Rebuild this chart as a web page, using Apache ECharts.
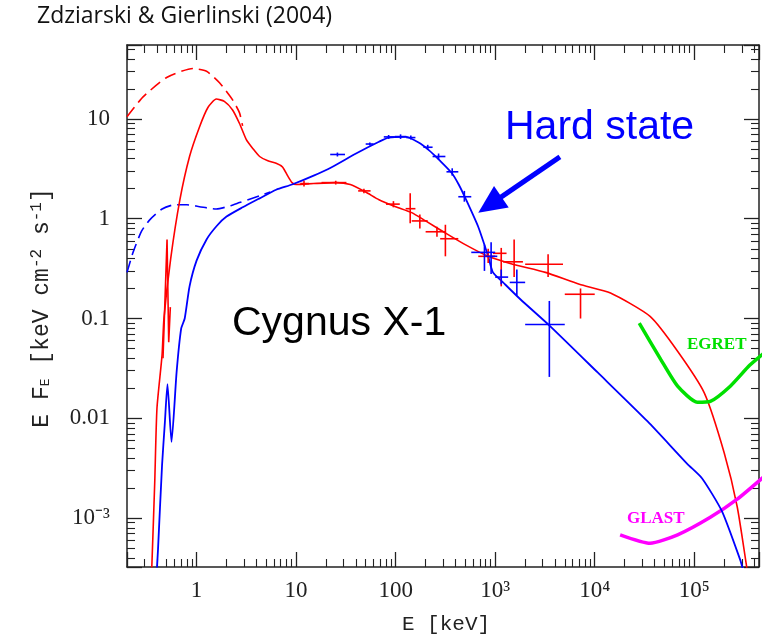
<!DOCTYPE html>
<html>
<head>
<meta charset="utf-8">
<script src="https://cdn.jsdelivr.net/npm/echarts@6/dist/echarts.min.js"></script>
<style>
  html, body { margin: 0; padding: 0; background: #fff; }
  #main { width: 762px; height: 637px; }
</style>
</head>
<body>
<div id="main"></div>
<script>
// axis ranges and tick labels
var xRange = [0.2, 4.47e5];
var yRange = [3.24e-4, 55];
var xTickValues = [1, 10, 100, 1e3, 1e4, 1e5];
var xTickLabels = ['1', '10', '100', '10³', '10⁴', '10⁵'];
var yTickValues = [1e-3, 0.01, 0.1, 1, 10];
var yTickLabels = ['10⁻³', '0.01', '0.1', '1', '10'];

// soft state (red) - model curve [E keV, E F_E]
var redModel = [
  [0.355, 3.2e-4], [0.38, 0.0023], [0.40, 0.0126], [0.45, 0.043], [0.47, 0.1],
  [0.55, 0.4], [0.68, 1.55], [0.85, 4.2], [1.07, 8.3], [1.3, 13], [1.58, 15.8],
  [1.9, 15], [2.3, 12.3], [2.7, 9], [3.16, 6.2], [3.7, 5.0], [4.3, 4.2], [5.2, 3.8],
  [6.3, 3.6], [7.3, 3.3], [8.2, 2.7], [9.1, 2.3], [10, 2.2], [15, 2.25], [25, 2.3],
  [35, 2.2], [50, 1.85], [68, 1.55], [100, 1.32], [145, 1.15], [200, 0.95],
  [316, 0.72], [500, 0.55], [851, 0.42], [1500, 0.35], [3200, 0.29], [7000, 0.22],
  [14400, 0.18], [36000, 0.105], [68000, 0.047], [126000, 0.018], [200000, 0.0045],
  [270000, 0.0013], [340000, 3e-4]
];
var redSpike = [[0.46, 0.04], [0.505, 0.62], [0.525, 0.058], [0.545, 0.13]];
var redUnabsorbed = [
  [0.2, 10.5], [0.29, 16.6], [0.5, 26], [0.92, 32], [1.26, 30], [1.7, 23],
  [2.3, 15.5], [2.7, 11.5], [2.9, 8.5]
];
// [E, flux, Elo, Ehi, fluxLo, fluxHi]
var redCrosses = [
  [12, 2.25, 11, 13.5, 2.1, 2.4], [25, 2.3, 18, 32, 2.2, 2.4], [48, 1.9, 42, 56, 1.8, 2.0],
  [95, 1.4, 80, 110, 1.3, 1.5], [140, 1.26, 126, 158, 0.9, 1.8], [175, 0.95, 145, 210, 0.8, 1.1],
  [260, 0.74, 200, 316, 0.66, 0.83], [316, 0.63, 280, 426, 0.42, 0.87],
  [850, 0.42, 676, 1000, 0.36, 0.5], [1150, 0.45, 950, 1300, 0.21, 0.51],
  [1550, 0.37, 1200, 1900, 0.26, 0.62], [3400, 0.35, 2000, 4800, 0.26, 0.44],
  [7200, 0.175, 5000, 10000, 0.1, 0.2]
];

// hard state (blue)
var blueModel = [
  [0.4, 3.2e-4], [0.41, 4.9e-4], [0.45, 0.0034], [0.48, 0.009], [0.51, 0.022],
  [0.56, 0.0058], [0.63, 0.029], [0.7, 0.079], [0.76, 0.1], [0.85, 0.21], [1.0, 0.38],
  [1.26, 0.62], [1.6, 0.85], [2.0, 1.05], [2.9, 1.3], [4.3, 1.6], [6.3, 1.95], [9.1, 2.2],
  [15, 2.7], [23, 3.3], [40, 4.5], [68, 5.9], [85, 6.5], [126, 6.6], [170, 5.8],
  [214, 4.9], [280, 3.8], [363, 2.9], [430, 2.2], [510, 1.55], [675, 0.83], [850, 0.42],
  [950, 0.29], [1200, 0.23], [1800, 0.155], [3600, 0.083], [10700, 0.0288],
  [34000, 0.0093], [85000, 0.0035], [120000, 0.0025], [190000, 0.00117],
  [290000, 3.8e-4], [310000, 3.0e-4]
];
var blueUnabsorbed = [
  [0.2, 0.29], [0.23, 0.46], [0.28, 0.75], [0.34, 0.98], [0.45, 1.25], [0.6, 1.38],
  [0.8, 1.38], [1.07, 1.32], [1.58, 1.25], [2.2, 1.35], [2.7, 1.45], [4.3, 1.7], [5.5, 1.85]
];
var blueCrosses = [
  [26, 4.4, 22, 31, 4.2, 4.6], [55, 5.6, 50, 60, 5.4, 5.8], [85, 6.6, 76, 98, 6.3, 6.9],
  [112, 6.65, 98, 128, 6.3, 7.0], [142, 6.5, 128, 158, 6.2, 6.8], [210, 5.2, 190, 235, 4.9, 5.5],
  [270, 4.2, 235, 316, 3.9, 4.5], [370, 2.95, 324, 426, 2.7, 3.2], [490, 1.66, 426, 575, 1.48, 1.9],
  [780, 0.46, 575, 1000, 0.3, 0.55], [910, 0.42, 800, 1050, 0.28, 0.58],
  [1150, 0.26, 1000, 1350, 0.22, 0.31], [1650, 0.23, 1400, 2000, 0.17, 0.31],
  [3500, 0.087, 2000, 5000, 0.026, 0.15]
];

// instrument sensitivities
var egret = [
  [28000, 0.09], [46000, 0.039], [68000, 0.021], [107000, 0.0145], [145000, 0.0148],
  [230000, 0.021], [360000, 0.034], [500000, 0.045]
];
var glast = [
  [18000, 6.8e-4], [36000, 5.6e-4], [68000, 6.8e-4], [145000, 1.02e-3],
  [270000, 1.55e-3], [500000, 2.6e-3]
];
// arrow: tail E, tail flux, tip E, tip flux
var arrowData = [[4467, 4.17, 676, 1.15]];

function minorTicks(range) {
  var out = [];
  for (var k = Math.floor(Math.log10(range[0])); k <= Math.ceil(Math.log10(range[1])); k++) {
    for (var m = 2; m <= 9; m++) {
      var v = m * Math.pow(10, k);
      if (v > range[0] && v < range[1]) out.push(v);
    }
  }
  return out;
}

function tickLabel(values, labels) {
  return function (v) {
    var e = Math.log10(v);
    for (var i = 0; i < values.length; i++) {
      if (Math.abs(Math.log10(values[i]) - e) < 1e-6) return labels[i];
    }
    return '';
  };
}

function renderCross(params, api) {
  var c = api.coord([api.value(0), api.value(1)]);
  var l = api.coord([api.value(2), api.value(1)]);
  var r = api.coord([api.value(3), api.value(1)]);
  var b = api.coord([api.value(0), api.value(4)]);
  var t = api.coord([api.value(0), api.value(5)]);
  var color = api.visual('color');
  return {
    type: 'group',
    children: [
      { type: 'line', shape: { x1: l[0], y1: c[1], x2: r[0], y2: c[1] }, style: { stroke: color, lineWidth: 1.6 } },
      { type: 'line', shape: { x1: c[0], y1: b[1], x2: c[0], y2: t[1] }, style: { stroke: color, lineWidth: 1.6 } }
    ]
  };
}

function renderArrow(params, api) {
  var a = api.coord([api.value(0), api.value(1)]);
  var b = api.coord([api.value(2), api.value(3)]);
  var dx = b[0] - a[0], dy = b[1] - a[1];
  var len = Math.sqrt(dx * dx + dy * dy);
  var ux = dx / len, uy = dy / len;
  var hl = 28, hw = 13;
  var bx = b[0] - ux * hl, by = b[1] - uy * hl;
  return {
    type: 'group',
    children: [
      { type: 'line', shape: { x1: a[0], y1: a[1], x2: bx + ux * 4, y2: by + uy * 4 },
        style: { stroke: '#0000ff', lineWidth: 5 } },
      { type: 'polygon', shape: { points: [[b[0], b[1]], [bx - uy * hw, by + ux * hw], [bx + uy * hw, by - ux * hw]] },
        style: { fill: '#0000ff' } }
    ]
  };
}

var axisCommon = {
  type: 'log',
  logBase: 10,
  axisLine: { show: true, lineStyle: { color: '#222', width: 1.5 } },
  axisTick: { show: true, inside: true, length: 15, lineStyle: { color: '#222', width: 1.3 } },
  minorTick: { show: true, splitNumber: 9, length: 8, lineStyle: { color: '#222', width: 1.1 } },
  splitLine: { show: false },
  minorSplitLine: { show: false }
};

function lineSeries(data, color, width, dashed, z) {
  return {
    type: 'line',
    data: data,
    showSymbol: false,
    smooth: 0.2,
    clip: true,
    z: z || 2,
    lineStyle: { color: color, width: width, type: dashed ? [12, 6] : 'solid' }
  };
}

var chart = echarts.init(document.getElementById('main'));
var option = {
  animation: false,
  backgroundColor: '#fff',
  grid: { left: 127, top: 45, right: 0, bottom: 70 },
  xAxis: [
    Object.assign({}, axisCommon, {
      position: 'bottom', min: xRange[0], max: xRange[1],
      axisLabel: {
        formatter: tickLabel(xTickValues, xTickLabels), margin: 12,
        fontFamily: 'Liberation Serif', fontSize: 23, color: '#222'
      }
    }),
    Object.assign({}, axisCommon, {
      position: 'top', min: xRange[0], max: xRange[1], axisLabel: { show: false }
    })
  ],
  yAxis: [
    Object.assign({}, axisCommon, {
      position: 'left', min: yRange[0], max: yRange[1],
      axisLabel: {
        formatter: tickLabel(yTickValues, yTickLabels), margin: 17,
        fontFamily: 'Liberation Serif', fontSize: 23, color: '#222'
      }
    }),
    Object.assign({}, axisCommon, {
      position: 'right', min: yRange[0], max: yRange[1], axisLabel: { show: false }
    })
  ],
  graphic: [
    {
      type: 'text', left: 37, top: 5,
      style: { text: 'Zdziarski & Gierlinski (2004)', fontFamily: 'Open Sans', fontSize: 23, fill: '#111' }
    },
    {
      type: 'text', x: 446, y: 624,
      style: { text: 'E [keV]', align: 'center', verticalAlign: 'middle', fontFamily: 'Liberation Mono', fontSize: 21, fill: '#222' }
    },
    {
      type: 'text', x: 42, y: 308, rotation: Math.PI / 2,
      style: {
        text: 'E F{sub|E} [keV cm{sup|-2} s{sup|-1}]',
        align: 'center', verticalAlign: 'middle',
        fontFamily: 'Liberation Mono', fontSize: 23, fill: '#222',
        rich: {
          sub: { fontFamily: 'Liberation Mono', fontSize: 13, fill: '#222', padding: [8, 0, 0, 0] },
          sup: { fontFamily: 'Liberation Mono', fontSize: 16, fill: '#222', padding: [0, 0, 10, 0] }
        }
      }
    },
    {
      type: 'text', x: 232, y: 324,
      style: { text: 'Cygnus X-1', fontFamily: 'Liberation Sans', fontSize: 41, fill: '#000', verticalAlign: 'middle' }
    },
    {
      type: 'text', x: 505, y: 128,
      style: { text: 'Hard state', fontFamily: 'Liberation Sans', fontSize: 41, fill: '#0000ff', verticalAlign: 'middle' }
    },
    {
      type: 'text', x: 687, y: 345,
      style: { text: 'EGRET', fontFamily: 'Liberation Serif', fontWeight: 'bold', fontSize: 17, fill: '#00e000', verticalAlign: 'middle' }
    },
    {
      type: 'text', x: 627, y: 519,
      style: { text: 'GLAST', fontFamily: 'Liberation Serif', fontWeight: 'bold', fontSize: 17, fill: '#ff00ff', verticalAlign: 'middle' }
    }
  ],
  series: [
    lineSeries(redUnabsorbed, '#ff0000', 1.6, true),
    lineSeries(blueUnabsorbed, '#0000ff', 1.6, true),
    lineSeries(redModel, '#ff0000', 1.6, false),
    Object.assign(lineSeries(redSpike, '#ff0000', 1.6, false), { smooth: false }),
    lineSeries(blueModel, '#0000ff', 1.8, false, 3),
    lineSeries(egret, '#00e000', 3.5, false),
    lineSeries(glast, '#ff00ff', 3.5, false),
    {
      type: 'custom', renderItem: renderCross, data: redCrosses,
      itemStyle: { color: '#ff0000' }, encode: { x: [0, 2, 3], y: [1, 4, 5] }, z: 4
    },
    {
      type: 'custom', renderItem: renderCross, data: blueCrosses,
      itemStyle: { color: '#0000ff' }, encode: { x: [0, 2], y: [1, 3] }, z: 5
    },
    {
      type: 'custom', renderItem: renderArrow, data: arrowData,
      encode: { x: [0, 2], y: [1, 3] }, z: 6
    }
  ]
};
try { chart.setOption(option); } catch (e) { }

// if the axes did not draw their frame ticks, add them through the axes' scales
try {
  var tickCount = 0;
  chart.getZr().storage.getDisplayList(true).forEach(function (el) {
    if (el.type === 'line' && el.style && el.style.stroke === '#222') tickCount++;
  });
  if (tickCount < 20) {
    var tickEls = [];
    var px = function (x, y) { return chart.convertToPixel({ gridIndex: 0 }, [x, y]); };
    var addX = function (v, len) {
      var b = px(v, yRange[0]), t = px(v, yRange[1]);
      tickEls.push({ type: 'line', shape: { x1: b[0], y1: b[1], x2: b[0], y2: b[1] - len }, style: { stroke: '#222', lineWidth: 1.2 } });
      tickEls.push({ type: 'line', shape: { x1: t[0], y1: t[1], x2: t[0], y2: t[1] + len }, style: { stroke: '#222', lineWidth: 1.2 } });
    };
    var addY = function (v, len) {
      var l = px(xRange[0], v), r = px(xRange[1], v);
      tickEls.push({ type: 'line', shape: { x1: l[0], y1: l[1], x2: l[0] + len, y2: l[1] }, style: { stroke: '#222', lineWidth: 1.2 } });
      tickEls.push({ type: 'line', shape: { x1: r[0], y1: r[1], x2: r[0] - len, y2: r[1] }, style: { stroke: '#222', lineWidth: 1.2 } });
    };
    xTickValues.forEach(function (v) { addX(v, 15); });
    minorTicks(xRange).forEach(function (v) { addX(v, 8); });
    yTickValues.forEach(function (v) { addY(v, 15); });
    minorTicks(yRange).forEach(function (v) { addY(v, 8); });
    option.graphic = option.graphic.concat(tickEls);
    chart.setOption(option, true);
  }
} catch (e) { }
</script>
</body>
</html>
